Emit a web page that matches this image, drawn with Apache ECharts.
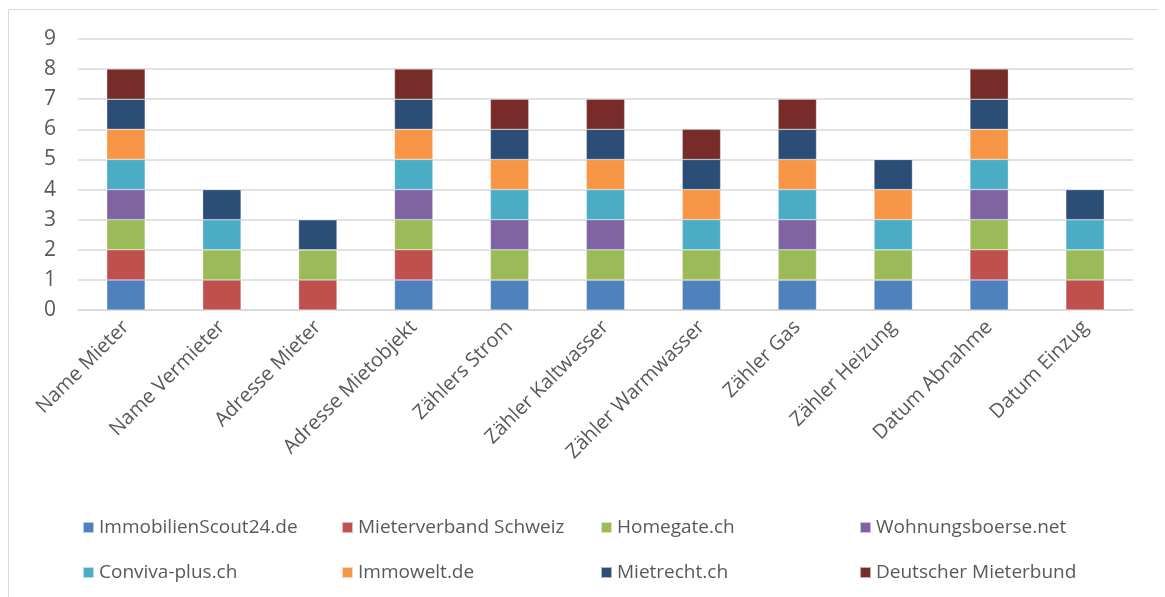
<!DOCTYPE html>
<html>
<head>
<meta charset="utf-8">
<script src="https://cdn.jsdelivr.net/npm/echarts@6/dist/echarts.min.js"></script>
<style>html,body{margin:0;padding:0;background:#fff;}#c{width:1165px;height:597px;}</style>
</head>
<body>
<div id="c"></div>
<script>
const categories = ['Name Mieter','Name Vermieter','Adresse Mieter','Adresse Mietobjekt','Zählers Strom','Zähler Kaltwasser','Zähler Warmwasser','Zähler Gas','Zähler Heizung','Datum Abnahme','Datum Einzug'];
const seriesNames = ['ImmobilienScout24.de','Mieterverband Schweiz','Homegate.ch','Wohnungsboerse.net','Conviva-plus.ch','Immowelt.de','Mietrecht.ch','Deutscher Mieterbund'];
const immobilienScout24 = [1,0,0,1,1,1,1,1,1,1,0];
const mieterverband     = [1,1,1,1,0,0,0,0,0,1,1];
const homegate          = [1,1,1,1,1,1,1,1,1,1,1];
const wohnungsboerse    = [1,0,0,1,1,1,0,1,0,1,0];
const convivaPlus       = [1,1,0,1,1,1,1,1,1,1,1];
const immowelt          = [1,0,0,1,1,1,1,1,1,1,0];
const mietrecht         = [1,1,1,1,1,1,1,1,1,1,1];
const deutscherMB       = [1,0,0,1,1,1,1,1,0,1,0];
const yTicks = [0,1,2,3,4,5,6,7,8,9];

const seriesData = [immobilienScout24, mieterverband, homegate, wohnungsboerse, convivaPlus, immowelt, mietrecht, deutscherMB];
const colors = ['#4f81bd','#c0504d','#9bbb59','#8064a2','#4bacc6','#f79646','#2c4d75','#772c2a'];
const font = 'Open Sans, Noto Sans, sans-serif';

const chart = echarts.init(document.getElementById('c'), null, {renderer:'canvas'});
chart.setOption({
  animation: false,
  color: colors,
  graphic: [{
    type: 'polyline', silent: true,
    shape: { points: [[8.5, 620],[8.5, 9.5],[1158, 9.5]] },
    style: { stroke: '#d9d9d9', lineWidth: 1, fill: null }
  }],
  grid: { left: 78, right: 32, top: 39, bottom: 287, containLabel: false },
  xAxis: {
    type: 'category', data: categories,
    axisLine: { show: true, lineStyle: { color: '#d9d9d9', width: 1.5 } },
    axisTick: { show: false },
    axisLabel: { rotate: 45, color: '#595959', fontSize: 20, fontFamily: font, margin: 14, interval: 0 }
  },
  yAxis: {
    type: 'value', min: yTicks[0], max: yTicks[yTicks.length-1], interval: 1,
    axisLine: { show: false }, axisTick: { show: false },
    splitLine: { lineStyle: { color: '#d9d9d9', width: 1.5 } },
    axisLabel: { color: '#595959', fontSize: 21, fontFamily: font, margin: 22 }
  },
  legend: {
    left: 77, top: 500, width: 1040,
    itemWidth: 11, itemHeight: 11, itemGap: 0,
    icon: 'rect',
    textStyle: { color: '#595959', fontSize: 19, fontFamily: font, width: 242, lineHeight: 45, overflow: 'none' },
    data: seriesNames
  },
  series: seriesNames.map((n, i) => ({
    name: n, type: 'bar', stack: 'total', data: seriesData[i],
    barWidth: '40%',
    itemStyle: { color: colors[i], borderColor: 'rgba(255,255,255,0.6)', borderWidth: 0.5 }
  }))
});
</script>
</body>
</html>
